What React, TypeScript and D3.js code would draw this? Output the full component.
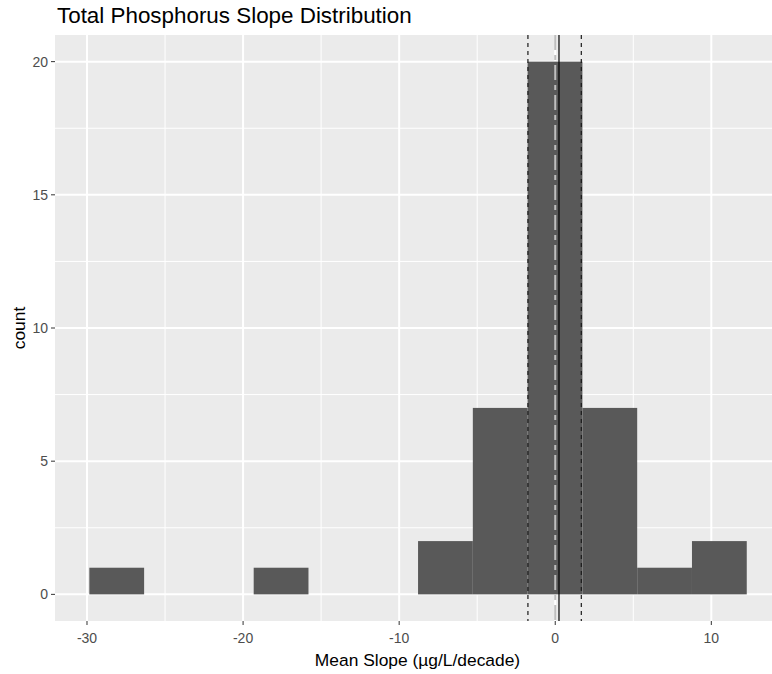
import React from "react";
import * as d3 from "d3";

// Histogram bins (12 bins)
const binStart = -29.85;
const binWidth = 3.51;
const binCounts = [1, 0, 0, 1, 0, 0, 2, 7, 20, 7, 1, 2];

// Reference lines
const zeroLine = [0];
const medianLine = [0.24];
const intervalLines = [-1.75, 1.67];

const xTicks = [-30, -20, -10, 0, 10];
const xMinor = [-25, -15, -5, 5];
const yTicks = [0, 5, 10, 15, 20];
const yMinor = [2.5, 7.5, 12.5, 17.5];

const titleText = "Total Phosphorus Slope Distribution";
const xTitle = "Mean Slope (µg/L/decade)";
const yTitle = "count";

export default function App() {
  const W = 772, H = 674;
  const left = 55, right = 780, top = 35, bottom = 621;
  const x = d3.scaleLinear().domain([-32.05, 14.4]).range([left, right]);
  const y = d3.scaleLinear().domain([-1, 21]).range([bottom, top]);
  const font = "'Liberation Sans', Arial, sans-serif";
  const bins = binCounts.map((c, i) => ({
    x0: binStart + i * binWidth,
    x1: binStart + (i + 1) * binWidth,
    c,
  }));
  return (
    <svg width={W} height={H} style={{ position: "absolute", left: 0, top: 0, overflow: "hidden" }} fontFamily={font}>
      <rect x={0} y={0} width={W} height={H} fill="#ffffff" />
      <rect x={left} y={top} width={right - left} height={bottom - top} fill="#EBEBEB" />
      {xMinor.map((t) => (
        <line key={"xm" + t} x1={x(t)} x2={x(t)} y1={top} y2={bottom} stroke="#fff" strokeWidth={1} />
      ))}
      {yMinor.map((t) => (
        <line key={"ym" + t} x1={left} x2={right} y1={y(t)} y2={y(t)} stroke="#fff" strokeWidth={1} />
      ))}
      {xTicks.map((t) => (
        <line key={"xM" + t} x1={x(t)} x2={x(t)} y1={top} y2={bottom} stroke="#fff" strokeWidth={2} />
      ))}
      {yTicks.map((t) => (
        <line key={"yM" + t} x1={left} x2={right} y1={y(t)} y2={y(t)} stroke="#fff" strokeWidth={2} />
      ))}
      {bins.filter((b) => b.c > 0).map((b, i) => (
        <rect key={"b" + i} x={x(b.x0)} width={x(b.x1) - x(b.x0)} y={y(b.c)} height={y(0) - y(b.c)} fill="#595959" />
      ))}
      {zeroLine.map((v) => (
        <line key={"z" + v} x1={x(v)} x2={x(v)} y1={top} y2={bottom} stroke="#BEBEBE" strokeWidth={2} strokeDasharray="15 5 5 5" />
      ))}
      {intervalLines.map((v) => (
        <line key={"i" + v} x1={x(v)} x2={x(v)} y1={top} y2={bottom} stroke="#1a1a1a" strokeWidth={1.2} strokeDasharray="4 4" />
      ))}
      {medianLine.map((v) => (
        <line key={"m" + v} x1={x(v)} x2={x(v)} y1={top} y2={bottom} stroke="#000" strokeWidth={1.2} />
      ))}
      {xTicks.map((t) => (
        <g key={"xt" + t}>
          <line x1={x(t)} x2={x(t)} y1={bottom} y2={bottom + 4} stroke="#333" strokeWidth={1} />
          <text x={x(t)} y={643} textAnchor="middle" fontSize={14} fill="#4D4D4D">{t}</text>
        </g>
      ))}
      {yTicks.map((t) => (
        <g key={"yt" + t}>
          <line x1={left - 4} x2={left} y1={y(t)} y2={y(t)} stroke="#333" strokeWidth={1} />
          <text x={48} y={y(t)} dy="0.35em" textAnchor="end" fontSize={14} fill="#4D4D4D">{t}</text>
        </g>
      ))}
      <text x={(left + right) / 2} y={666} textAnchor="middle" fontSize={17.4} fill="#000">{xTitle}</text>
      <text transform={`translate(25,${(top + bottom) / 2}) rotate(-90)`} textAnchor="middle" fontSize={17.4} fill="#000">{yTitle}</text>
      <text x={57} y={23} fontSize={22.4} fill="#000">{titleText}</text>
    </svg>
  );
}
